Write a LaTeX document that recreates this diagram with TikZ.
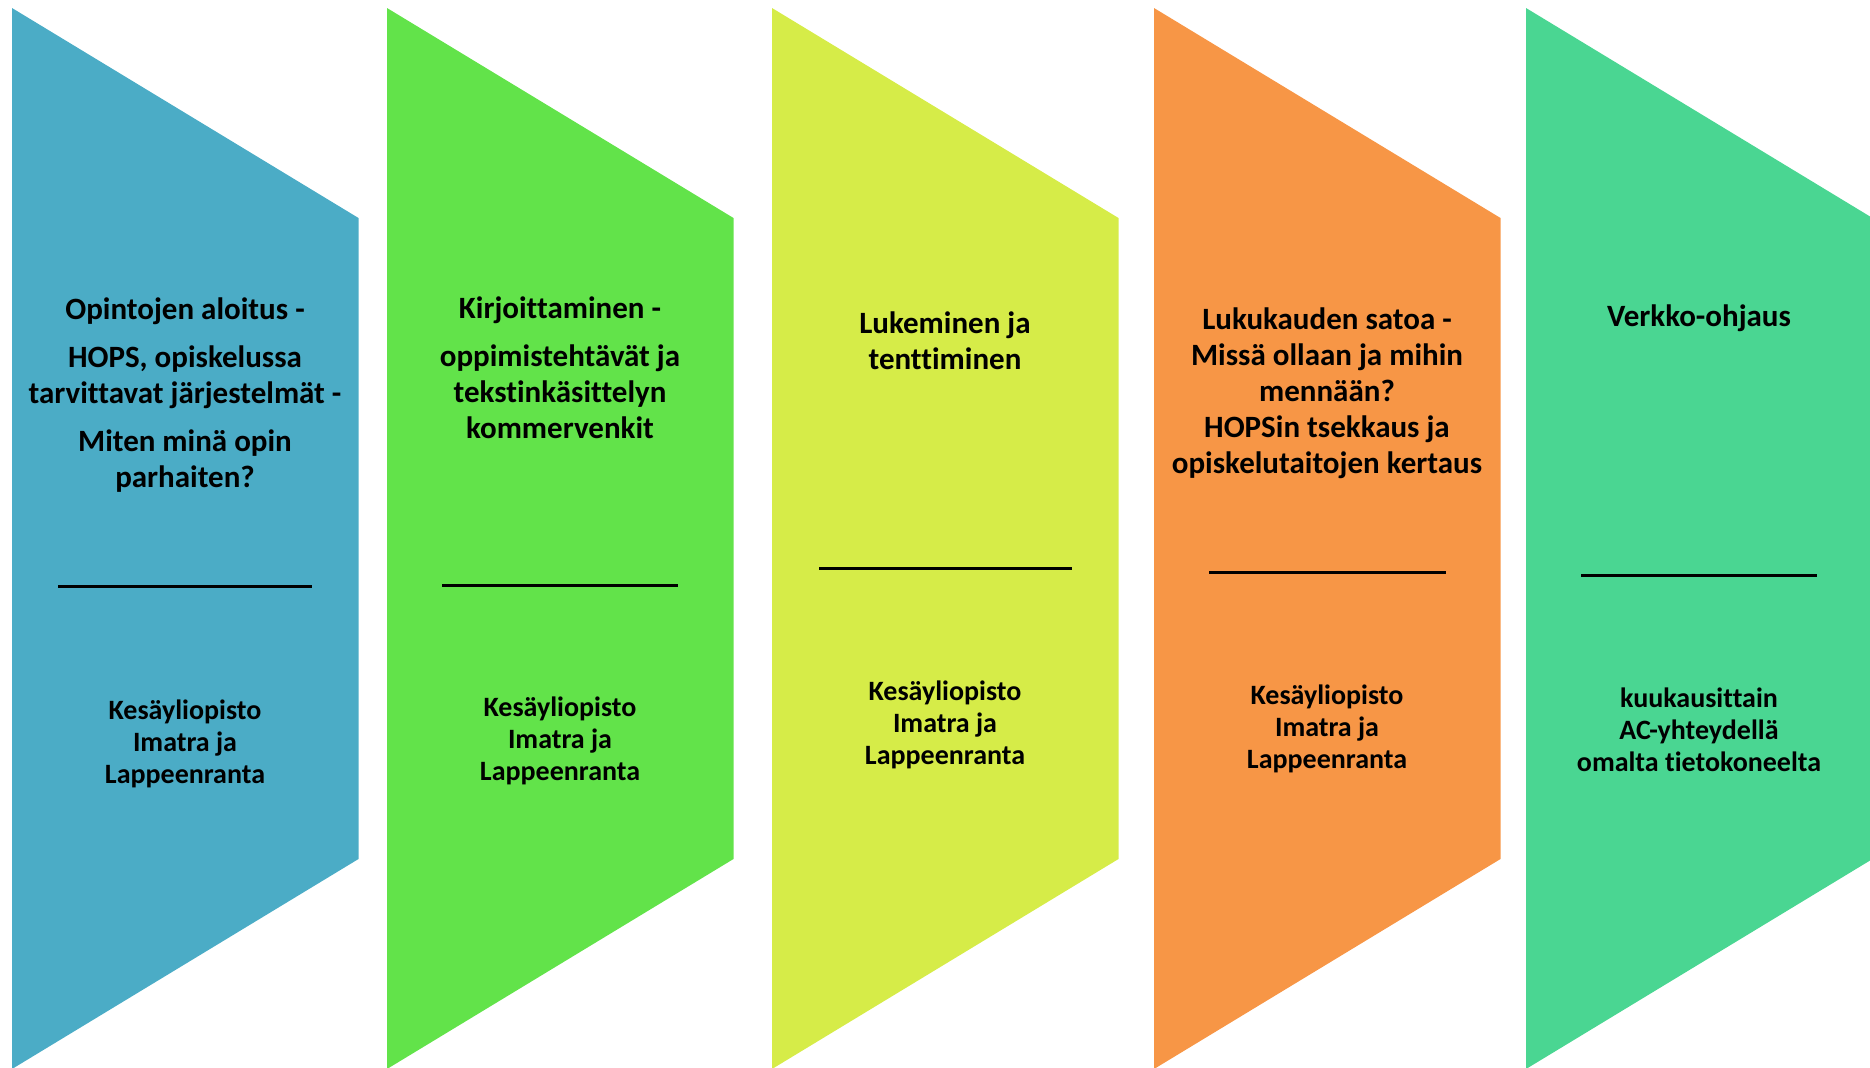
\documentclass[tikz,border=0pt]{standalone}
\usepackage{fontspec}
\setmainfont{Carlito}[Ligatures=CommonOff]
\usepackage{tikz}
\definecolor{c1}{HTML}{4BACC6}
\definecolor{c2}{HTML}{62E34A}
\definecolor{c3}{HTML}{D6EC48}
\definecolor{c4}{HTML}{F79646}
\definecolor{c5}{HTML}{4AD692}

\begin{document}
\begin{tikzpicture}
  [x=0.5pt,y=-0.5pt,every node/.style={align=center,font=\bfseries\fontsize{15.5}{18}\selectfont},
   place/.style={font=\bfseries\fontsize{14}{16}\selectfont}]
  \useasboundingbox (0,0) rectangle (1870,1067);
  \foreach \x/\c in {12/c1,387/c2,772/c3,1154/c4,1526/c5}
    \fill[\c] (\x,8) -- ++(346.5,210) -- ++(0,641) -- ++(-346.5,210) -- cycle;
  \foreach \a/\b/\y in {58/312/586,442/678/585,819/1072/568,1209/1446/572,1581/1817/575}
    \draw[line width=1.5pt] (\a,\y) -- (\b,\y);

  \node (t1) at (185,395)  {Opintojen aloitus -\\[6pt] HOPS, opiskelussa\\ tarvittavat järjestelmät -\\[6pt] Miten minä opin\\ parhaiten?};
  \node (t2) at (560,368)  {Kirjoittaminen -\\[6pt] oppimistehtävät ja\\ tekstinkäsittelyn\\ kommervenkit};
  \node (t3) at (945,341)  {Lukeminen ja\\ tenttiminen};
  \node (t4) at (1327,393) {Lukukauden satoa -\\ Missä ollaan ja mihin\\ mennään?\\ HOPSin tsekkaus ja\\ opiskelutaitojen kertaus};
  \node (t5) at (1699,318) {Verkko-ohjaus};

  \node[place] (b1) at (185,744)  {Kesäyliopisto\\ Imatra ja\\ Lappeenranta};
  \node[place] (b2) at (560,741)  {Kesäyliopisto\\ Imatra ja\\ Lappeenranta};
  \node[place] (b3) at (945,725)  {Kesäyliopisto\\ Imatra ja\\ Lappeenranta};
  \node[place] (b4) at (1327,729) {Kesäyliopisto\\ Imatra ja\\ Lappeenranta};
  \node[place] (b5) at (1699,730) {kuukausittain\\ AC-yhteydellä\\ omalta tietokoneelta};

\end{tikzpicture}
\end{document}
